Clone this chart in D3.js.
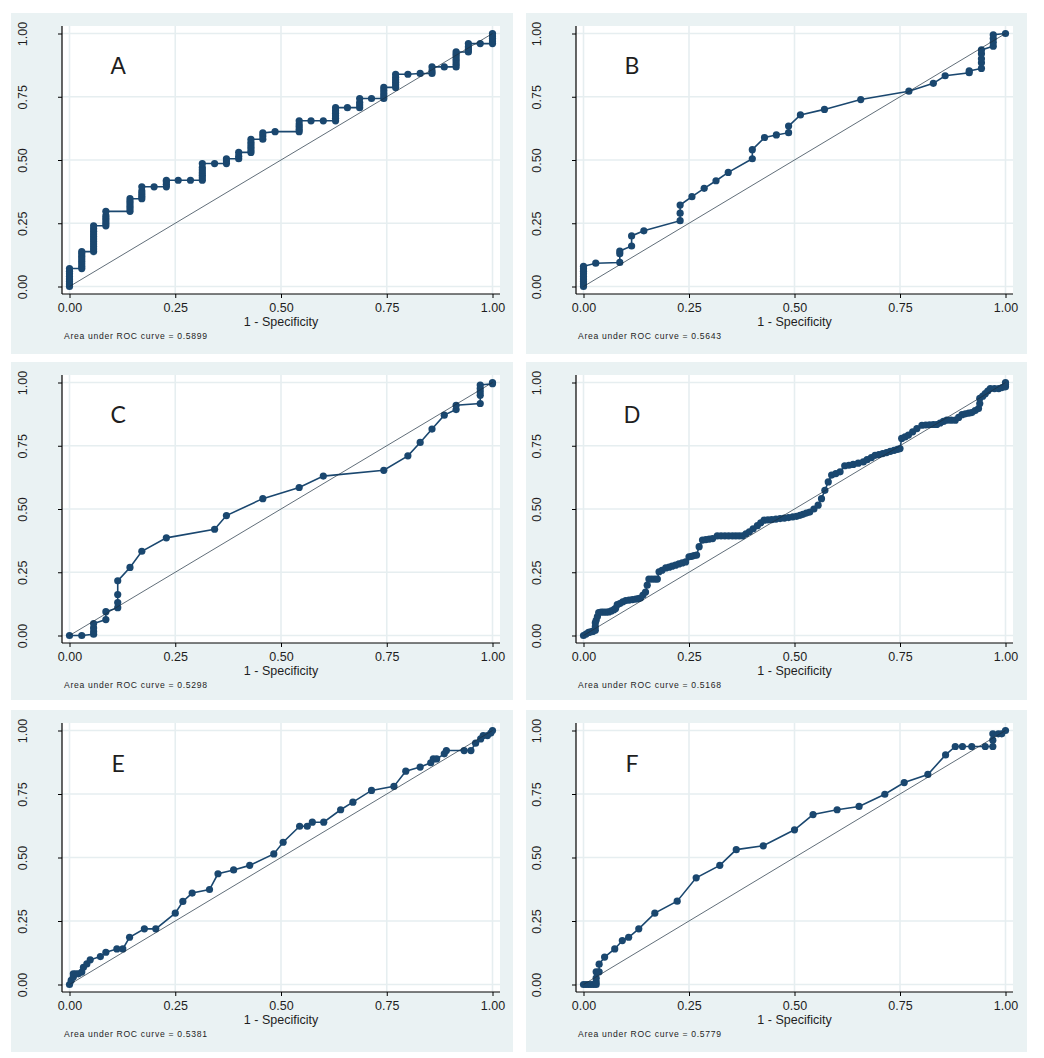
<!DOCTYPE html>
<meta charset="utf-8">
<script src="https://d3js.org/d3.v7.min.js"></script>
<style>
body { margin: 0; background: #fff; }
svg text { font-family: "Liberation Sans", Arial, sans-serif; fill: #1e1e1e; }
</style>
<body>
<div id="chart"></div>
</body>
<script>

// panel labels and areas under the curve
const letters = ["A", "B", "C", "D", "E", "F"];
const aucs = ["0.5899", "0.5643", "0.5298", "0.5168", "0.5381", "0.5779"];
const ticks = [0, 0.25, 0.5, 0.75, 1];

// ROC points: [1 - specificity, sensitivity]
const rocA = [
	[0,0],[0,.01],[0,.02],[0,.03],[0,.04],[0,.05],[0,.06],[0,.071],
	[.029,.071],[.029,.08],[.029,.09],[.029,.1],[.029,.11],[.029,.12],[.029,.13],[.029,.138],
	[.057,.138],[.057,.148],[.057,.158],[.057,.168],[.057,.178],[.057,.188],[.057,.198],[.057,.208],[.057,.218],[.057,.228],[.057,.24],
	[.086,.24],[.086,.25],[.086,.26],[.086,.27],[.086,.28],[.086,.297],
	[.143,.297],[.143,.307],[.143,.317],[.143,.327],[.143,.337],[.143,.347],
	[.171,.347],[.171,.357],[.171,.367],[.171,.377],[.171,.394],
	[.2,.394],
	[.229,.394],[.229,.404],[.229,.414],[.229,.42],
	[.257,.42],[.286,.42],
	[.314,.42],[.314,.43],[.314,.44],[.314,.45],[.314,.46],[.314,.47],[.314,.486],
	[.343,.486],
	[.371,.486],[.371,.496],[.371,.505],
	[.4,.505],[.4,.515],[.4,.53],
	[.429,.53],[.429,.54],[.429,.55],[.429,.56],[.429,.57],[.429,.582],
	[.457,.582],[.457,.595],[.457,.607],
	[.486,.612],
	[.543,.612],[.543,.622],[.543,.632],[.543,.642],[.543,.655],
	[.571,.655],[.6,.655],
	[.629,.655],[.629,.665],[.629,.675],[.629,.685],[.629,.695],[.629,.707],
	[.657,.707],
	[.686,.707],[.686,.717],[.686,.727],[.686,.743],
	[.714,.743],
	[.743,.743],[.743,.753],[.743,.763],[.743,.775],[.743,.787],
	[.771,.787],[.771,.797],[.771,.807],[.771,.817],[.771,.827],[.771,.839],
	[.8,.839],[.829,.842],
	[.857,.842],[.857,.852],[.857,.868],
	[.886,.868],
	[.914,.868],[.914,.878],[.914,.888],[.914,.898],[.914,.908],[.914,.918],[.914,.927],
	[.943,.927],[.943,.937],[.943,.947],[.943,.96],
	[.971,.96],
	[1,.96],[1,.97],[1,.98],[1,.99],[1,1]
];

const rocB = [
	[0,0],[0,.01],[0,.02],[0,.03],[0,.04],[0,.05],[0,.06],[0,.07],[0,.08],
	[.029,.092],
	[.086,.095],[.086,.13],[.086,.14],
	[.114,.16],[.114,.2],
	[.143,.22],
	[.229,.26],[.229,.29],[.229,.322],
	[.257,.355],[.286,.388],[.314,.418],[.343,.451],
	[.4,.505],[.4,.541],
	[.429,.589],[.457,.599],[.486,.608],[.486,.634],
	[.514,.678],[.571,.7],[.657,.739],[.771,.772],[.829,.803],[.857,.833],
	[.914,.845],[.914,.852],
	[.943,.862],[.943,.884],[.943,.9],[.943,.92],[.943,.935],
	[.971,.95],[.971,.965],[.971,.98],[.971,.995],
	[1,1]
];

const rocC = [
	[0,0],[.029,0],
	[.057,.005],[.057,.015],[.057,.03],[.057,.047],
	[.086,.063],[.086,.094],
	[.114,.11],[.114,.13],[.114,.162],[.114,.216],
	[.143,.269],[.171,.333],[.229,.386],[.343,.42],[.371,.474],[.457,.541],[.543,.585],[.6,.63],[.743,.653],
	[.8,.71],[.829,.763],[.857,.816],[.886,.871],[.914,.893],[.914,.91],
	[.971,.917],[.971,.95],[.971,.963],[.971,.976],[.971,.99],
	[1,.995],[1,1]
];

const rocD = [
	[0,0],[.006,.006],[.012,.012],[.017,.014],[.022,.016],[.028,.021],[.028,.035],[.028,.05],[.03,.06],[.033,.075],
	[.036,.091],[.042,.092],[.048,.092],[.054,.092],[.06,.093],[.066,.097],[.072,.102],[.076,.107],[.08,.122],[.086,.126],
	[.093,.133],[.1,.138],[.108,.14],[.116,.142],[.124,.144],[.13,.146],[.135,.148],[.141,.16],[.147,.172],[.151,.199],
	[.155,.223],[.162,.223],[.169,.223],[.175,.223],[.179,.252],[.186,.258],[.195,.267],[.203,.27],[.21,.274],[.218,.278],
	[.226,.283],[.234,.287],[.242,.291],[.25,.311],[.256,.313],[.262,.316],[.268,.318],[.274,.351],[.282,.377],[.29,.379],
	[.298,.381],[.306,.383],[.317,.394],[.326,.394],[.335,.394],[.344,.394],[.353,.394],[.361,.394],[.369,.394],[.377,.394],
	[.385,.402],[.393,.41],[.402,.422],[.412,.434],[.42,.445],[.428,.456],[.437,.457],[.446,.458],[.456,.46],[.466,.462],
	[.476,.464],[.486,.466],[.496,.469],[.505,.471],[.513,.475],[.52,.479],[.528,.484],[.536,.488],[.546,.5],[.556,.515],
	[.564,.541],[.572,.574],[.58,.607],[.588,.634],[.598,.64],[.608,.647],[.619,.671],[.629,.673],[.639,.676],[.651,.681],
	[.663,.686],[.672,.695],[.682,.703],[.691,.712],[.7,.715],[.709,.719],[.718,.723],[.727,.728],[.736,.732],[.744,.736],
	[.75,.739],[.754,.779],[.762,.785],[.77,.792],[.78,.805],[.79,.818],[.802,.831],[.811,.832],[.82,.833],[.829,.834],
	[.837,.834],[.845,.84],[.853,.846],[.861,.851],[.871,.851],[.881,.851],[.889,.862],[.897,.873],[.905,.876],[.913,.879],
	[.92,.881],[.928,.889],[.936,.897],[.939,.917],[.939,.937],[.946,.946],[.952,.956],[.958,.966],[.964,.976],[.974,.976],
	[.984,.976],[.992,.98],[1,.983],[1,.992],[1,1]
];

const rocE = [
	[0,0],[.004,.016],[.009,.03],[.009,.042],[.015,.042],[.021,.042],[.029,.049],[.033,.068],[.041,.081],[.049,.097],
	[.073,.11],[.086,.127],[.112,.14],[.126,.14],[.142,.186],[.177,.219],[.204,.219],[.25,.281],[.268,.327],[.29,.36],
	[.331,.374],[.351,.436],[.388,.451],[.426,.469],[.483,.514],[.505,.56],[.544,.623],[.562,.623],[.574,.639],[.601,.639],
	[.641,.688],[.67,.718],[.714,.764],[.767,.78],[.795,.84],[.829,.856],[.854,.873],[.86,.888],[.868,.888],[.886,.908],
	[.891,.921],[.933,.921],[.949,.921],[.96,.95],[.972,.967],[.978,.98],[.988,.98],[.996,.99],[1,1]
];

const rocF = [
	[0,0],[.006,0],[.012,0],[.018,0],[.024,0],[.03,0],[.03,.01],[.03,.025],[.03,.05],[.037,.05],[.037,.08],
	[.05,.108],[.074,.14],[.092,.173],[.107,.186],[.131,.219],[.169,.281],[.222,.328],[.267,.42],[.323,.469],
	[.362,.531],[.426,.546],[.5,.609],[.544,.669],[.601,.688],[.653,.701],[.714,.749],[.76,.795],[.816,.827],
	[.858,.904],[.881,.937],[.898,.937],[.92,.937],[.952,.937],[.97,.937],[.97,.962],[.97,.987],[.983,.987],[.991,.987],[1,1]
];

const curves = [rocA, rocB, rocC, rocD, rocE, rocF];

// layout of the 3x2 grid of panels
const cols = [{bgX: 11, bgW: 502, x: 62, w: 438}, {bgX: 526, bgW: 501, x: 576, w: 437}];
const rows = [{bgY: 13, bgH: 341, y: 26, h: 268}, {bgY: 362, bgH: 338, y: 375, h: 268}, {bgY: 710, bgH: 342, y: 723, h: 269}];
const letterFonts = ["Liberation Sans", "Lato", "Lato", "Liberation Sans", "Lato", "Lato"];
const pad = 7.5;
const navy = "#1a476f", bgCol = "#eaf2f3", gridCol = "#e6eef0";

const svg = d3.select("#chart")
	.append("svg")
	.attr("width", 1044)
	.attr("height", 1058);

letters.forEach(function(letter, i) {
	const c = cols[i % 2], r = rows[Math.floor(i / 2)];
	const bottom = r.y + r.h;
	const x = d3.scaleLinear().domain([0, 1]).range([c.x + pad, c.x + c.w - pad]);
	const y = d3.scaleLinear().domain([0, 1]).range([bottom - pad, r.y + pad]);
	const g = svg.append("g");

	g.append("rect")
		.attr("x", c.bgX).attr("y", r.bgY)
		.attr("width", c.bgW).attr("height", r.bgH)
		.attr("fill", bgCol);

	g.append("rect")
		.attr("x", c.x).attr("y", r.y)
		.attr("width", c.w).attr("height", r.h)
		.attr("fill", "#fff");

	// grid lines
	g.selectAll(".vgrid").data(ticks).join("line")
		.attr("x1", d => x(d)).attr("x2", d => x(d))
		.attr("y1", r.y).attr("y2", bottom)
		.attr("stroke", gridCol).attr("stroke-width", 1.6);
	g.selectAll(".hgrid").data(ticks).join("line")
		.attr("x1", c.x).attr("x2", c.x + c.w)
		.attr("y1", d => y(d)).attr("y2", d => y(d))
		.attr("stroke", gridCol).attr("stroke-width", 1.6);

	// axes (ticks from d3, the lines themselves span the whole plot region)
	const xa = g.append("g")
		.attr("transform", `translate(0,${bottom})`)
		.call(d3.axisBottom(x).tickValues(ticks).tickFormat(d3.format(".2f")).tickSize(4).tickPadding(5));
	xa.select(".domain").remove();
	xa.selectAll("text").style("font-size", "12.5px");

	const ya = g.append("g")
		.attr("transform", `translate(${c.x},0)`)
		.call(d3.axisLeft(y).tickValues(ticks).tickFormat(d3.format(".2f")).tickSize(4));
	ya.select(".domain").remove();
	ya.selectAll("text")
		.attr("x", 0).attr("dy", "0.35em")
		.attr("text-anchor", "middle")
		.attr("transform", "translate(-39,0) rotate(-90)")
		.style("font-size", "12.5px");

	g.append("line")
		.attr("x1", c.x).attr("x2", c.x + c.w)
		.attr("y1", bottom).attr("y2", bottom)
		.attr("stroke", "#000").attr("stroke-width", 1.2);
	g.append("line")
		.attr("x1", c.x).attr("x2", c.x)
		.attr("y1", r.y).attr("y2", bottom)
		.attr("stroke", "#000").attr("stroke-width", 1.2);

	// ROC curve
	const pts = curves[i];
	g.append("path")
		.datum(pts)
		.attr("fill", "none")
		.attr("stroke", navy)
		.attr("stroke-width", 1.6)
		.attr("d", d3.line().x(d => x(d[0])).y(d => y(d[1])));

	g.selectAll(".pt").data(pts).join("circle")
		.attr("cx", d => x(d[0]))
		.attr("cy", d => y(d[1]))
		.attr("r", 3.6)
		.attr("fill", navy);

	// reference line
	g.append("line")
		.attr("x1", x(0)).attr("y1", y(0))
		.attr("x2", x(1)).attr("y2", y(1))
		.attr("stroke", "#1c2f3f").attr("stroke-width", 0.7);

	// labels
	g.append("text")
		.attr("x", x(0.115)).attr("y", y(0.87))
		.attr("dy", "0.35em")
		.attr("text-anchor", "middle")
		.style("font-family", letterFonts[i])
		.style("font-size", "23px")
		.text(letter);

	g.append("text")
		.attr("x", (x(0) + x(1)) / 2).attr("y", bottom + 32)
		.attr("text-anchor", "middle")
		.style("font-size", "12.5px")
		.text("1 - Specificity");

	g.append("text")
		.attr("x", c.x + 2).attr("y", bottom + 44.5)
		.attr("textLength", 143)
		.attr("lengthAdjust", "spacing")
		.style("font-size", "8.6px")
		.text("Area under ROC curve = " + aucs[i]);
});

</script>
